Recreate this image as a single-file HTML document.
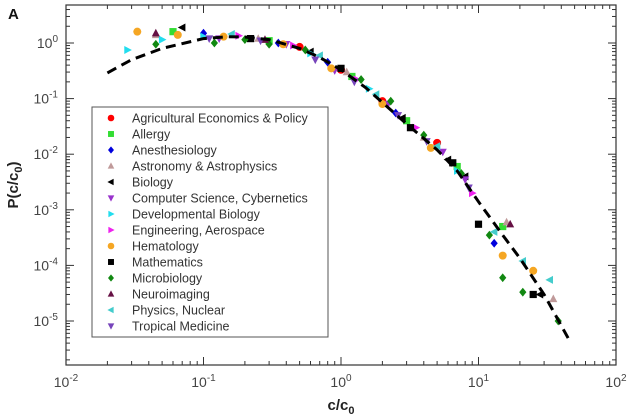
<!DOCTYPE html>
<html><head><meta charset="utf-8"><style>
body{margin:0;background:#fff;}
svg{display:block;font-family:"Liberation Sans",sans-serif;}
</style></head><body>
<svg id="chart" width="628" height="419" viewBox="0 0 628 419" xmlns="http://www.w3.org/2000/svg"></svg>
<script>
const xTickExps=[-2,-1,0,1,2];
const yTickExps=[0,-1,-2,-3,-4,-5];
const curveX=[0.02,0.03,0.05,0.1,0.15,0.2,0.3,0.5,0.7,1,1.5,2,3,5,7,10,15,20,30,47];
const curveY=[0.29,0.5,0.8,1.2,1.3,1.28,1.15,0.8,0.55,0.33,0.16,0.085,0.035,0.012,0.005,0.0014,0.00035,0.000135,0.00003,0.000004];
const seriesNames=["Agricultural Economics & Policy","Allergy","Anesthesiology","Astronomy & Astrophysics","Biology","Computer Science, Cybernetics","Developmental Biology","Engineering, Aerospace","Hematology","Mathematics","Microbiology","Neuroimaging","Physics, Nuclear","Tropical Medicine"];
const seriesColors=["#ff0000","#33dd33","#0000dd","#c09a9a","#000000","#9933cc","#22ddee","#ee22ee","#f5a623","#000000","#118811","#661144","#44cccc","#7744bb"];
const seriesMarkers=["circle","square","diamond","up","left","down","right","right","circle","square","diamond","up","left","down"];
const seriesX=[
[0.5,1,2,5],
[0.06,0.3,1.2,3,7,15],
[0.1,0.35,0.8,2.5,13],
[0.045,0.25,1.1,4,16,35],
[0.07,0.6,2.8,6,8,28],
[0.13,0.4,0.9,2.2,5.5,8],
[0.028,0.05,0.1,0.6,1.6,7],
[0.18,0.45,1.3,3.5,9],
[0.033,0.065,0.14,0.38,0.85,2,4.5,15,25],
[0.22,1.0,3.2,6.5,10,25],
[0.045,0.12,0.2,0.3,0.55,1.4,2.3,4,7.5,12,15,21,38],
[0.045,0.28,17],
[0.16,0.7,1.8,5,13,21,33],
[0.11,0.26,0.65,1.25,2.6,4.2,8.5]];
const seriesY=[
[0.85,0.33,0.09,0.016],
[1.6,1.1,0.25,0.04,0.006,0.0005],
[1.5,1.0,0.45,0.055,0.00025],
[1.4,1.2,0.3,0.02,0.0006,0.000025],
[1.9,0.7,0.045,0.008,0.004,0.00003],
[1.2,0.95,0.32,0.08,0.011,0.0035],
[0.75,1.15,1.3,0.65,0.15,0.005],
[1.35,0.9,0.22,0.03,0.002],
[1.6,1.4,1.3,0.95,0.35,0.08,0.013,0.00015,0.00008],
[1.2,0.35,0.03,0.007,0.00055,0.00003],
[0.95,1.0,1.15,0.95,0.75,0.22,0.09,0.022,0.0045,0.00035,0.00006,0.000033,0.00001],
[1.5,1.15,0.00055],
[1.45,0.6,0.12,0.014,0.0004,0.00012,0.000055],
[1.2,1.1,0.5,0.2,0.05,0.017,0.0025]];

const L=66,R=616,T=5,B=365;
const X0=-2,X1=2;
const yDec=55.6, y10=43;
function xs(v){return L+(Math.log10(v)-X0)/(X1-X0)*(R-L);}
function ys(v){return y10-Math.log10(v)*yDec;}
const NS="http://www.w3.org/2000/svg";
const svg=document.getElementById('chart');
function mk(tag,attrs,parent){const e=document.createElementNS(NS,tag);for(const k in attrs)e.setAttribute(k,attrs[k]);(parent||svg).appendChild(e);return e;}

let t=mk('text',{x:8,y:19,'font-size':15,'font-weight':'bold',fill:'#111'});t.textContent='A';



let fr=mk('rect',{x:L,y:T,width:R-L,height:B-T,fill:'none',stroke:'#333','stroke-width':1.2});



const tg=mk('g',{stroke:'#333','stroke-width':1});


for(let e=-2;e<2;e++){for(let m=1;m<10;m++){const v=m*Math.pow(10,e);const x=xs(v);const len=m==1?8:4;
 mk('line',{x1:x,y1:B,x2:x,y2:B-len},tg);mk('line',{x1:x,y1:T,x2:x,y2:T+len},tg);}}
for(let e=-6;e<1;e++){for(let m=1;m<10;m++){const v=m*Math.pow(10,e);const y=ys(v);if(y<T||y>B)continue;const len=m==1?8:4;
 mk('line',{x1:L,y1:y,x2:L+len,y2:y},tg);mk('line',{x1:R,y1:y,x2:R-len,y2:y},tg);}}

xTickExps.forEach(e=>{const x=xs(Math.pow(10,e));
 const tx=mk('text',{x:x,y:387,'text-anchor':'middle','font-size':14,fill:'#444'});
 
 
 tx.innerHTML='10<tspan dy="-6" font-size="10">'+e+'</tspan>';});
yTickExps.forEach(e=>{const y=ys(Math.pow(10,e));
 const tx=mk('text',{x:58,y:y+5,'text-anchor':'end','font-size':14,fill:'#444'});
 
 
 tx.innerHTML='10<tspan dy="-6" font-size="10">'+e+'</tspan>';});

let xt=mk('text',{x:341,y:410,'text-anchor':'middle','font-size':15,'font-weight':'bold',fill:'#222'});


xt.innerHTML='c/c<tspan dy="4" font-size="11">0</tspan>';
let yt=mk('text',{x:0,y:0,'text-anchor':'middle','font-size':15,'font-weight':'bold',fill:'#222',transform:'translate(18,185) rotate(-90)'});


yt.innerHTML='P(c/c<tspan dy="4" font-size="11">0</tspan><tspan dy="-4">)</tspan>';

function marker(type,cx,cy,col,parent,s){s=s||4;let e;
 if(type=='circle')e=mk('circle',{cx:cx,cy:cy,r:s,fill:col},parent);
 else if(type=='square')e=mk('rect',{x:cx-s*0.9,y:cy-s*0.9,width:s*1.8,height:s*1.8,fill:col},parent);
 else{let p;
  if(type=='diamond')p=[[0,-s*1.1],[s*0.9,0],[0,s*1.1],[-s*0.9,0]];
  else if(type=='up')p=[[0,-s*1.1],[s,s*0.8],[-s,s*0.8]];
  else if(type=='down')p=[[0,s*1.1],[s,-s*0.8],[-s,-s*0.8]];
  else if(type=='left')p=[[-s*1.1,0],[s*0.8,-s],[s*0.8,s]];
  else p=[[s*1.1,0],[-s*0.8,-s],[-s*0.8,s]];
  e=mk('polygon',{points:p.map(q=>(cx+q[0])+','+(cy+q[1])).join(' '),fill:col},parent);}
 return e;}

seriesNames.forEach((n,i)=>{const g=mk('g',{});
 
 
 seriesX[i].forEach((xv,j)=>{const m=marker(seriesMarkers[i],xs(xv),ys(seriesY[i][j]),seriesColors[i],g);
  
  });});

let d=curveX.map((xv,i)=>(i?'L':'M')+xs(xv).toFixed(1)+','+ys(curveY[i]).toFixed(1)).join(' ');
let cp=mk('path',{d:d,fill:'none',stroke:'#000','stroke-width':3,'stroke-dasharray':'10,6'});



const lg=mk('g',{});


mk('rect',{x:92,y:107,width:236,height:230,fill:'#fff',stroke:'#555','stroke-width':1},lg);
seriesNames.forEach((n,i)=>{const y=118+i*16;
 const eg=mk('g',{},lg);
 
 
 marker(seriesMarkers[i],111,y,seriesColors[i],eg,3.3);
 const tx=mk('text',{x:132,y:y+4.5,'font-size':12.5,fill:'#333'},eg);
 tx.textContent=n;});
</script>
</body></html>
